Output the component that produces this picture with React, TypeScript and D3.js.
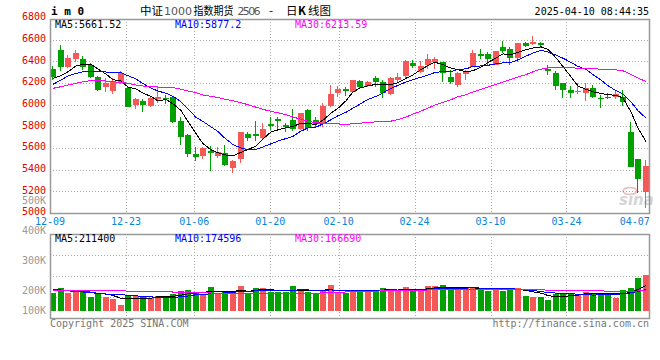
import React from "react";
import * as d3 from "d3";

// ---------- data ----------
const dates = [
  "12-09","12-10","12-11","12-12","12-13","12-16","12-17","12-18","12-19","12-20",
  "12-23","12-24","12-25","12-26","12-27","12-30","12-31","01-02","01-03","01-06",
  "01-07","01-08","01-09","01-10","01-13","01-14","01-15","01-16","01-17","01-20",
  "01-21","01-22","01-23","01-24","01-27","02-05","02-06","02-07","02-10","02-11",
  "02-12","02-13","02-14","02-17","02-18","02-19","02-20","02-21","02-24","02-25",
  "02-26","02-27","02-28","03-03","03-04","03-05","03-06","03-07","03-10","03-11",
  "03-12","03-13","03-14","03-17","03-18","03-19","03-20","03-21","03-24","03-25",
  "03-26","03-27","03-28","03-31","04-01","04-02","04-03","04-07","04-08","04-09",
];
const opens = [
  6328,6506,6352,6420,6420,6367,6260,6167,6130,6207,
  6152,6000,6038,5992,6050,6066,6075,5853,5721,5545,
  5527,5576,5527,5557,5419,5499,5730,5730,5690,5822,
  5865,5813,5859,5773,5952,5859,5822,5989,6112,6146,
  6115,6220,6173,6244,6207,6100,6229,6269,6389,6306,
  6367,6398,6398,6260,6183,6284,6352,6466,6466,6367,
  6537,6515,6429,6574,6558,6568,6327,6290,6198,6136,
  6115,6112,6152,6060,6075,6069,6075,5752,5499,5197,
];
const highs = [
  6358,6548,6460,6506,6450,6383,6266,6244,6250,6315,
  6161,6066,6053,6081,6161,6087,6084,5884,5730,5613,
  5613,5619,5607,5628,5490,5752,5752,5853,5828,5884,
  5890,5835,5958,5927,5958,5884,6013,6183,6173,6161,
  6229,6229,6223,6266,6229,6253,6297,6414,6414,6408,
  6469,6444,6398,6321,6306,6321,6506,6512,6491,6500,
  6592,6531,6574,6583,6635,6583,6367,6315,6198,6173,
  6198,6204,6183,6090,6106,6130,6136,5844,5499,5490,
];
const lows = [
  6226,6310,6337,6398,6321,6244,6127,6121,6100,6192,
  5976,5958,5936,5976,6013,6007,5835,5628,5520,5484,
  5496,5391,5505,5434,5373,5465,5665,5668,5675,5767,
  5767,5752,5761,5767,5761,5791,5798,5976,6075,6084,
  6106,6143,6161,6161,6059,6090,6213,6235,6337,6290,
  6327,6327,6207,6192,6167,6229,6352,6420,6367,6367,
  6481,6367,6398,6537,6552,6521,6275,6136,6059,6059,
  6100,6038,6066,5967,6053,6053,5989,5428,5188,5043,
];
const closes = [
  6260,6352,6429,6475,6352,6260,6136,6198,6213,6290,
  5982,6053,6001,6060,6075,6060,5844,5699,5545,5520,
  5598,5557,5567,5444,5480,5752,5696,5715,5776,5804,
  5850,5798,5773,5921,5782,5822,5989,6100,6146,6130,
  6229,6167,6207,6207,6106,6244,6260,6408,6361,6358,
  6420,6420,6290,6207,6290,6306,6481,6454,6423,6497,
  6500,6429,6568,6546,6583,6552,6315,6176,6136,6112,
  6130,6152,6075,6050,6060,6100,6029,5428,5311,5435,
];
const volumes = [
  159000,205000,159000,168000,177000,126000,147000,126000,108000,50000,
  132000,132000,132000,111000,132000,120000,150000,177000,186000,156000,
  150000,214000,150000,177000,168000,223000,150000,205000,205000,168000,
  168000,168000,223000,193000,168000,159000,186000,232000,171000,156000,
  186000,186000,177000,177000,205000,195000,177000,214000,177000,195000,
  223000,223000,232000,195000,195000,205000,205000,186000,177000,195000,
  177000,205000,205000,135000,123000,123000,95000,150000,150000,150000,
  150000,168000,159000,150000,159000,117000,186000,205000,295000,323000,
];
// moving-average values before a full window exists
const ma5Lead = [6244, 6269, 6306, 6358];
const ma10Lead = [6189, 6229, 6266, 6290, 6306, 6306, 6306, 6303, 6300];
const ma30Lead = [
  6152,6167,6183,6198,6213,6223,6223,6220,6213,6207,
  6198,6183,6173,6167,6164,6161,6158,6143,6127,6112,
  6090,6078,6066,6052,6037,6020,6000,5978,5957,
];
const volMa5Lead = [177000, 186000, 180000, 171000];
const volMa10Lead = [193000,186000,180000,175000,168000,162000,156000,150000,145000];
const volMa30Lead = [
  186000,186000,186000,186000,186000,186000,186000,186000,186000,180000,
  176000,175000,175000,174000,172000,170000,168000,166000,164000,162000,
  160000,159000,158000,157000,157000,156000,156000,156000,155000,
];
const priceGrid = [5200, 5400, 5600, 5800, 6000, 6200, 6400, 6600];
const priceLabels = [5000, 5200, 5400, 5600, 5800, 6000, 6200, 6400, 6600, 6800];
const volLabelValues = [100000, 200000, 300000, 400000, 500000];
const volLabels = ["100K", "200K", "300K", "400K", "500K"];
const xTickLabels = ["12-09","12-23","01-06","01-20","02-10","02-24","03-10","03-24","04-07"];
const maTitles = ["MA5:5661.52", "MA10:5877.2", "MA30:6213.59"];
const volMaTitles = ["MA5:211400", "MA10:174596", "MA30:166690"];

// ---------- styles ----------
const W = 660, H = 360;
const L = 50, R = 650;
const MAIN_T = 19, MAIN_B = 213;
const VOL_T = 234, VOL_B = 318;
const RED = "#f65757";
const GREEN = "#00a000";
const MA_COLORS = ["#000000", "#0000ff", "#ff00ff"];
const MONO = "'DejaVu Sans Mono', monospace";
const CJK = "'Noto Sans CJK SC', sans-serif";

function movingAvg(vals: number[], n: number, lead: number[]) {
  return vals.map((_, i) => (i < n - 1 ? lead[i] : (d3.mean(vals.slice(i - n + 1, i + 1)) as number)));
}

export default function App() {
  const n = closes.length;
  const xSlot = d3.scaleLinear().domain([0, n]).range([L, R]);
  const xGrid = d3.scaleLinear().domain([0, n - 1]).range([L, R]);
  const yP = d3.scaleLinear().domain([5000, 6800]).range([MAIN_B, 18.2]);
  const yV = d3.scaleLinear().domain([0, 700000]).range([310.5, 233.5]);
  const yVLabel = d3.scaleLinear().domain([200000, 500000]).range([290.3, 200.7]);
  const bodyW = 6;
  const cx = (i: number) => Math.round(xSlot(i)) + 3;

  const ma = [movingAvg(closes, 5, ma5Lead), movingAvg(closes, 10, ma10Lead), movingAvg(closes, 30, ma30Lead)];
  const vma = [movingAvg(volumes, 5, volMa5Lead), movingAvg(volumes, 10, volMa10Lead), movingAvg(volumes, 30, volMa30Lead)];

  const priceLine = d3.line<number>().x((_, i) => cx(i)).y((d) => yP(d));
  const volLine = d3.line<number>().x((_, i) => cx(i)).y((d) => yV(d));

  const gridIdx = xTickLabels.map((t) => dates.indexOf(t));
  const vGridIdx = gridIdx.slice(1, -1);
  const volGrid = [VOL_T + (VOL_B - VOL_T) * 0.25, VOL_T + (VOL_B - VOL_T) * 0.5, VOL_T + (VOL_B - VOL_T) * 0.75];

  return (
    <svg width={W} height={H} style={{ position: "absolute", left: 0, top: 0, background: "#fff" }} fontFamily={MONO}>
      <rect x={0} y={0} width={W} height={H} fill="#fff" />
      {/* header */}
      <text x={51} y={15} fontSize={11} fontWeight="bold" fill="#000">i m 0</text>
      <g fontSize={11.5} fill="#000">
        <text x={140} y={15} fontFamily={CJK} textLength={23} lengthAdjust="spacingAndGlyphs">中证</text>
        <text x={164} y={15} fontFamily="'DejaVu Sans', sans-serif" fontSize={11} fill="#555" textLength={28}>1000</text>
        <text x={193.5} y={15} fontFamily={CJK} textLength={40} lengthAdjust="spacingAndGlyphs">指数期货</text>
        <text x={237.5} y={15} fontFamily="'DejaVu Sans', sans-serif" fontSize={11} fill="#555" textLength={23}>2506</text>
        <text x={269} y={15} fontFamily={CJK}>-</text>
        <text x={286} y={15} fontFamily={CJK}>日</text>
        <text x={298} y={15} fontFamily={CJK} fontWeight="bold">K</text>
        <text x={308} y={15} fontFamily={CJK}>线图</text>
      </g>
      <text x={649} y={15} fontSize={10} textAnchor="end" fill="#000">2025-04-10 08:44:35</text>

      {/* main grid */}
      {priceGrid.map((p) => (
        <line key={p} x1={L} x2={R} y1={Math.round(yP(p)) + 0.5} y2={Math.round(yP(p)) + 0.5} stroke="#aaa" strokeDasharray="1,2" />
      ))}
      {vGridIdx.map((i) => (
        <line key={i} x1={Math.round(xGrid(i)) + 0.5} x2={Math.round(xGrid(i)) + 0.5} y1={MAIN_T} y2={MAIN_B} stroke="#aaa" strokeDasharray="1,2" />
      ))}
      {/* volume grid */}
      {volGrid.map((y) => (
        <line key={y} x1={L} x2={R} y1={Math.round(y) + 0.5} y2={Math.round(y) + 0.5} stroke="#aaa" strokeDasharray="1,2" />
      ))}
      {vGridIdx.map((i) => (
        <line key={"v" + i} x1={Math.round(xGrid(i)) + 0.5} x2={Math.round(xGrid(i)) + 0.5} y1={VOL_T} y2={VOL_B} stroke="#aaa" strokeDasharray="1,2" />
      ))}

      {/* candles */}
      {closes.map((c, i) => {
        const o = opens[i];
        const up = c >= o;
        const col = up ? RED : GREEN;
        const x0 = Math.round(xSlot(i));
        const yTop = Math.round(yP(Math.max(o, c)));
        const yBot = Math.round(yP(Math.min(o, c)));
        return (
          <g key={i} shapeRendering="crispEdges">
            <line x1={x0 + 2.5} x2={x0 + 2.5} y1={Math.round(yP(highs[i]))} y2={Math.round(yP(lows[i]))} stroke={col} />
            <rect x={x0} y={yTop} width={bodyW} height={Math.max(1, yBot - yTop)} fill={col} />
          </g>
        );
      })}
      {/* price MAs */}
      {ma.map((arr, k) => (
        <path key={k} d={priceLine(arr) || ""} fill="none" stroke={MA_COLORS[k]} strokeWidth={1} shapeRendering="crispEdges" />
      ))}

      {/* volume bars */}
      {volumes.map((v, i) => {
        const col = closes[i] >= opens[i] ? RED : GREEN;
        const x0 = Math.round(xSlot(i));
        const y = Math.round(yV(v));
        return <rect key={i} x={x0} y={y} width={bodyW} height={Math.round(yV(0)) - y} fill={col} shapeRendering="crispEdges" />;
      })}
      {vma.map((arr, k) => (
        <path key={k} d={volLine(arr) || ""} fill="none" stroke={MA_COLORS[k]} strokeWidth={1} shapeRendering="crispEdges" />
      ))}

      {/* frames */}
      <rect x={L + 0.5} y={MAIN_T + 0.5} width={R - L - 1} height={MAIN_B - MAIN_T} fill="none" stroke="#999" strokeWidth={1.5} />
      <rect x={L + 0.5} y={VOL_T + 0.5} width={R - L - 1} height={VOL_B - VOL_T} fill="none" stroke="#999" strokeWidth={1.5} />

      {/* MA titles */}
      {maTitles.map((t, k) => (
        <text key={t} x={55 + 120 * k} y={27.5} fontSize={10} fill={MA_COLORS[k]}>{t}</text>
      ))}
      {volMaTitles.map((t, k) => (
        <text key={t} x={55 + 120 * k} y={242} fontSize={10} fill={MA_COLORS[k]}>{t}</text>
      ))}

      {/* price labels */}
      {priceLabels.map((p) => (
        <text key={p} x={46} y={yP(p) + 2.2} fontSize={10} textAnchor="end" fill="#e00000">{p}</text>
      ))}
      {/* volume labels */}
      {volLabelValues.map((v, k) => (
        <text key={v} x={46} y={Math.min(310, yVLabel(v)) + 3.6} fontSize={10} textAnchor="end" fill="#999">{volLabels[k]}</text>
      ))}
      {/* x labels */}
      {gridIdx.map((i, k) => (
        <text key={k} x={xGrid(i)} y={225} fontSize={10} textAnchor="middle" fill="#0a84d8">{xTickLabels[k]}</text>
      ))}

      {/* watermark */}
      <g opacity={0.35}>
        <ellipse cx={630} cy={191} rx={7} ry={3.5} fill="none" stroke="#e03030" strokeWidth={1.5} />
        <text x={619} y={205} fontSize={15} fontWeight="bold" fontStyle="italic" fill="#888" fontFamily="'DejaVu Sans', sans-serif">sina</text>
      </g>

      {/* footer */}
      <text x={50} y={326.5} fontSize={10} fill="#777">Copyright 2025 SINA.COM</text>
      <text x={649} y={326.5} fontSize={10} textAnchor="end" fill="#777">http://finance.sina.com.cn</text>
    </svg>
  );
}
